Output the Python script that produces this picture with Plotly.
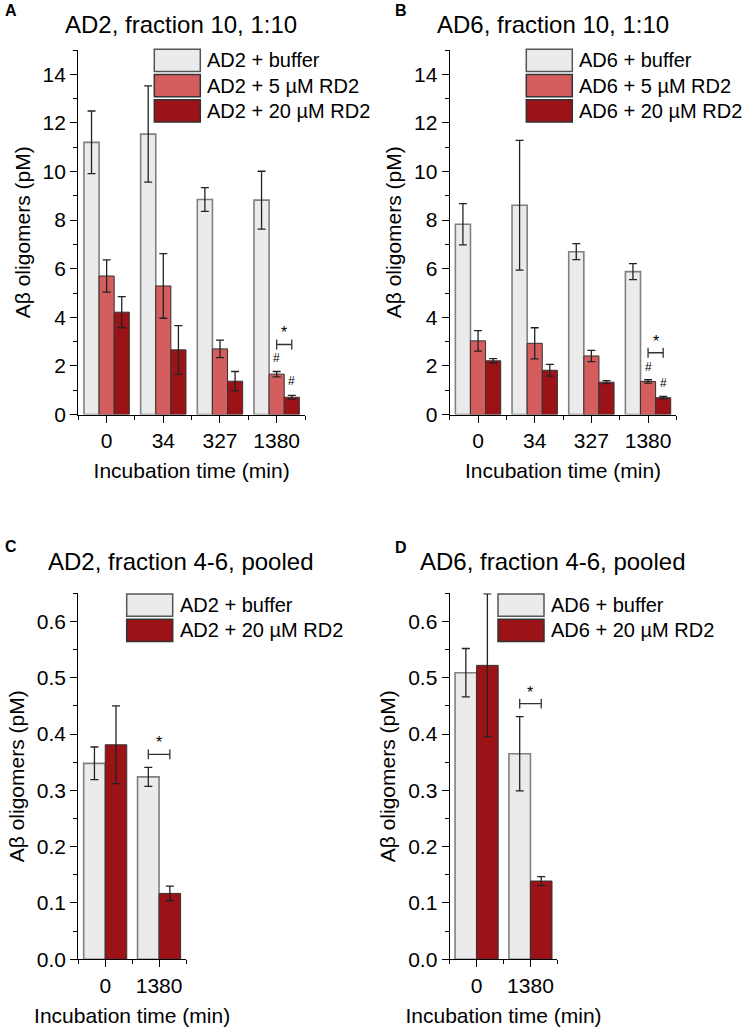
import plotly.graph_objects as go

# ---------------- data ----------------
times_AB = ["0", "34", "327", "1380"]
times_CD = ["0", "1380"]

A_names = ["AD2 + buffer", "AD2 + 5 µM RD2", "AD2 + 20 µM RD2"]
A_buffer = [11.20, 11.54, 8.85, 8.82]
A_buffer_err = [1.29, 1.98, 0.49, 1.19]
A_rd5 = [5.70, 5.29, 2.70, 1.66]
A_rd5_err = [0.66, 1.33, 0.36, 0.11]
A_rd20 = [4.21, 2.66, 1.37, 0.71]
A_rd20_err = [0.64, 1.00, 0.40, 0.08]

B_names = ["AD6 + buffer", "AD6 + 5 µM RD2", "AD6 + 20 µM RD2"]
B_buffer = [7.83, 8.61, 6.70, 5.88]
B_buffer_err = [0.85, 2.67, 0.33, 0.33]
B_rd5 = [3.03, 2.93, 2.41, 1.36]
B_rd5_err = [0.42, 0.64, 0.23, 0.07]
B_rd20 = [2.21, 1.82, 1.33, 0.69]
B_rd20_err = [0.09, 0.24, 0.06, 0.05]

C_names = ["AD2 + buffer", "AD2 + 20 µM RD2"]
C_buffer = [0.348, 0.324]
C_buffer_err = [0.029, 0.017]
C_rd20 = [0.381, 0.117]
C_rd20_err = [0.069, 0.013]

D_names = ["AD6 + buffer", "AD6 + 20 µM RD2"]
D_buffer = [0.509, 0.365]
D_buffer_err = [0.043, 0.066]
D_rd20 = [0.522, 0.139]
D_rd20_err = [0.127, 0.008]

titles = ["AD2, fraction 10, 1:10", "AD6, fraction 10, 1:10",
          "AD2, fraction 4-6, pooled", "AD6, fraction 4-6, pooled"]
letters = ["A", "B", "C", "D"]

# ---------------- style ----------------
W, H = 747, 1027
FONT = "Liberation Sans, Arial, sans-serif"
C_BUF = "#EBEBEB"
C_R5 = "#D45E5E"
C_R20 = "#9B1316"
L_BUF = "#808080"
L_RED = "#333333"
ERRC = "#222222"
FS_TICK = 21
FS_AX = 21
FS_LEG = 20
FS_TITLE = 24


def px(x):
    return x / W


def py(y):
    return 1 - y / H


fig = go.Figure()

panels = [
    ("x", "y", (78.3, 305.0), (50.0, 414.5), 15, 2, 1, 0),
    ("x2", "y2", (449.7, 676.4), (50.0, 414.5), 15, 2, 1, 0),
    ("x3", "y3", (78.3, 186.0), (593.3, 959.3), 0.65, 0.1, 0.05, 1),
    ("x4", "y4", (449.7, 557.4), (593.3, 959.3), 0.65, 0.1, 0.05, 1),
]


def bar(xa, ya, xs, vals, errs, name, fill, lc, lw):
    fig.add_trace(go.Bar(
        x=list(range(len(xs))), y=vals, name=name, xaxis=xa, yaxis=ya,
        marker=dict(color=fill, line=dict(color=lc, width=lw)),
        error_y=dict(type="data", array=errs, visible=True, color=ERRC,
                     thickness=1.3, width=4),
        showlegend=False, hoverinfo="y"))


bar("x", "y", times_AB, A_buffer, A_buffer_err, A_names[0], C_BUF, L_BUF, 1.6)
bar("x", "y", times_AB, A_rd5, A_rd5_err, A_names[1], C_R5, L_RED, 1.0)
bar("x", "y", times_AB, A_rd20, A_rd20_err, A_names[2], C_R20, L_RED, 1.0)
bar("x2", "y2", times_AB, B_buffer, B_buffer_err, B_names[0], C_BUF, L_BUF, 1.6)
bar("x2", "y2", times_AB, B_rd5, B_rd5_err, B_names[1], C_R5, L_RED, 1.0)
bar("x2", "y2", times_AB, B_rd20, B_rd20_err, B_names[2], C_R20, L_RED, 1.0)
bar("x3", "y3", times_CD, C_buffer, C_buffer_err, C_names[0], C_BUF, L_BUF, 1.6)
bar("x3", "y3", times_CD, C_rd20, C_rd20_err, C_names[1], C_R20, L_RED, 1.0)
bar("x4", "y4", times_CD, D_buffer, D_buffer_err, D_names[0], C_BUF, L_BUF, 1.6)
bar("x4", "y4", times_CD, D_rd20, D_rd20_err, D_names[1], C_R20, L_RED, 1.0)

layout = dict(
    width=W, height=H, margin=dict(l=0, r=0, t=0, b=0, pad=0,
                                   autoexpand=False),
    paper_bgcolor="white", plot_bgcolor="white",
    barmode="group", bargap=0.2, bargroupgap=0.0,
    font=dict(family=FONT, size=FS_TICK, color="black"),
    showlegend=False,
)

annotations = []
shapes = []

tick_sets = [times_AB, times_AB, times_CD, times_CD]
for i, (xa, ya, xd, yd, ymax, dt, mdt, ndec) in enumerate(panels):
    xk = "xaxis" + xa[1:]
    yk = "yaxis" + ya[1:]
    ncat = len(tick_sets[i])
    layout[xk] = dict(
        domain=[px(xd[0]), px(xd[1])], anchor=ya, automargin=False,
        range=[-0.5, ncat - 0.5], tickvals=list(range(ncat)),
        ticktext=tick_sets[i], showline=True, linecolor="black",
        linewidth=1.3, ticks="outside", ticklen=7, tickwidth=1.3,
        tickcolor="black", showgrid=False, zeroline=False,
        tickfont=dict(size=FS_TICK),
        minor=dict(ticks="outside", ticklen=4, tickwidth=1.2,
                   tickcolor="black", tick0=0.5, dtick=1, showgrid=False),
        title=dict(text="Incubation time (min)", font=dict(size=FS_AX),
                   standoff=12),
        fixedrange=True,
    )
    layout[yk] = dict(
        domain=[py(yd[1]), py(yd[0])], anchor=xa, automargin=False,
        range=[0, ymax], dtick=dt, tick0=0, showline=True,
        linecolor="black", linewidth=1.3, ticks="outside", ticklen=7,
        tickwidth=1.3, tickcolor="black", showgrid=False, zeroline=False,
        tickformat=".1f" if ndec == 1 else "d",
        tickfont=dict(size=FS_TICK),
        minor=dict(ticks="outside", ticklen=4, tickwidth=1.2,
                   tickcolor="black", tick0=0, dtick=mdt, showgrid=False),
        title=dict(text="Aβ oligomers (pM)", font=dict(size=FS_AX),
                   standoff=6),
        fixedrange=True,
    )

# titles and panel letters
title_pos = [(181, 24), (553, 24), (181, 561), (553, 561)]
letter_pos = [(3, 11), (393, 11), (3, 546), (393, 547)]
for t, (tx, ty) in zip(titles, title_pos):
    annotations.append(dict(text=t, x=px(tx), y=py(ty), xref="paper",
                            yref="paper", showarrow=False, xanchor="center",
                            yanchor="middle", font=dict(size=FS_TITLE)))
for l, (lx, ly) in zip(letters, letter_pos):
    annotations.append(dict(text="<b>%s</b>" % l, x=px(lx), y=py(ly),
                            xref="paper", yref="paper", showarrow=False,
                            xanchor="left", yanchor="middle",
                            font=dict(size=16)))

# custom legends (big boxes like the original)
legend_specs = [
    (154.3, A_names, [C_BUF, C_R5, C_R20], [L_BUF, L_RED, L_RED], 49.3),
    (526.3, B_names, [C_BUF, C_R5, C_R20], [L_BUF, L_RED, L_RED], 49.3),
    (126.7, C_names, [C_BUF, C_R20], [L_BUF, L_RED], 594.0),
    (498.0, D_names, [C_BUF, C_R20], [L_BUF, L_RED], 594.0),
]
BOXW, BOXH, ROW = 46, 22.3, 25.2
for x0, names, fills, lines, y0 in legend_specs:
    for k, (nm, fc, lc) in enumerate(zip(names, fills, lines)):
        top = y0 + k * ROW
        shapes.append(dict(type="rect", xref="paper", yref="paper",
                           x0=px(x0), x1=px(x0 + BOXW), y0=py(top + BOXH),
                           y1=py(top), fillcolor=fc,
                           line=dict(color="#555555" if k == 0 else "#333333",
                                     width=1.5)))
        annotations.append(dict(text=nm, x=px(x0 + BOXW + 5),
                                y=py(top + BOXH / 2), xref="paper",
                                yref="paper", showarrow=False,
                                xanchor="left", yanchor="middle",
                                font=dict(size=FS_LEG)))


def per_px(i):
    yd, ymax = panels[i][3], panels[i][4]
    return ymax / (yd[1] - yd[0])


def bracket(xa, ya, xl, xr, yv):
    fig.add_trace(go.Scatter(
        x=[xl, xr], y=[yv, yv], xaxis=xa, yaxis=ya, mode="lines+markers",
        line=dict(color="#333333", width=1.3),
        marker=dict(symbol="line-ns-open", size=7,
                    line=dict(color="#333333", width=1.3)),
        showlegend=False, hoverinfo="skip", cliponaxis=False))


def text_at(xa, ya, x, y, s, size, anchor="middle"):
    annotations.append(dict(text=s, x=x, y=y, xref=xa, yref=ya,
                            showarrow=False, xanchor="center",
                            yanchor=anchor, font=dict(size=size)))


bw3 = 0.8 / 3
for i, (xa, ya, r5, r5e, r20, r20e) in enumerate([
        ("x", "y", A_rd5, A_rd5_err, A_rd20, A_rd20_err),
        ("x2", "y2", B_rd5, B_rd5_err, B_rd20, B_rd20_err)]):
    k = len(r5) - 1
    u = per_px(i)
    cap5 = r5[k] + r5e[k]
    cap20 = r20[k] + r20e[k]
    text_at(xa, ya, k, cap5 + 13 * u, "#", 12)
    text_at(xa, ya, k + bw3, cap20 + 14 * u, "#", 12)
    yb = cap5 + 27 * u
    bracket(xa, ya, k, k + bw3, yb)
    text_at(xa, ya, k + bw3 / 2, yb + 1 * u, "*", 16, "bottom")

for i, (xa, ya, bu, bue) in enumerate([
        ("x3", "y3", C_buffer, C_buffer_err),
        ("x4", "y4", D_buffer, D_buffer_err)]):
    k = len(bu) - 1
    u = per_px(i + 2)
    yb = bu[k] + bue[k] + 13 * u
    bracket(xa, ya, k - 0.2, k + 0.2, yb)
    text_at(xa, ya, k, yb + 1 * u, "*", 16, "bottom")

layout["annotations"] = annotations
layout["shapes"] = shapes
fig.update_layout(**layout)
fig.write_html(
    "out.html",
    config={"displayModeBar": False},
    post_script="document.body.style.margin='0px';"
                "document.body.style.overflow='hidden';")
